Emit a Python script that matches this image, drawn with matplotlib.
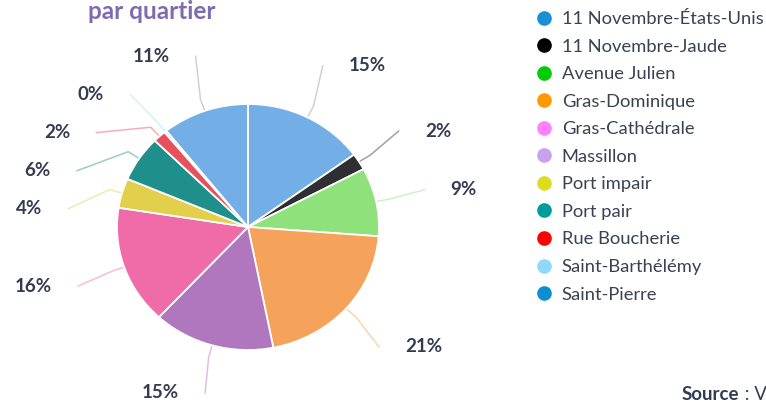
import numpy as np
import matplotlib.pyplot as plt
from matplotlib.lines import Line2D

# quartiers in legend order
quartiers = ['11 Novembre-États-Unis', '11 Novembre-Jaude', 'Avenue Julien',
             'Gras-Dominique', 'Gras-Cathédrale', 'Massillon', 'Port impair',
             'Port pair', 'Rue Boucherie', 'Saint-Barthélémy', 'Saint-Pierre']
legend_colors = ['#1a8fd6', '#000000', '#00cc00', '#ff9900', '#ff80ff', '#c8a2f0',
                 '#dedc22', '#009b9b', '#ff0000', '#8fd8ff', '#0b8fcf']

# pie slices, clockwise from 12 o'clock
parts = [15.0, 2.2, 9.0, 20.7, 15.0, 15.6, 3.9, 6.0, 1.6, 0.3, 10.7]
slice_colors = ['#74aee6', '#2f2f33', '#8fe27b', '#f5a35b', '#b077be', '#f06ca9',
                '#e2cf4b', '#1f8f8c', '#e8505b', '#9fe3ec', '#74aee6']

W, H = 766, 405
cx, cy, rx, ry = 248, 227, 131, 123
txt = '#333b52'

plt.rcParams['font.family'] = ['Lato', 'DejaVu Sans']

fig = plt.figure(figsize=(W / 100, H / 100), dpi=100)
ax = fig.add_axes([0, 0, 1, 1])

wedges, _ = ax.pie(parts, colors=slice_colors, startangle=90, counterclock=False,
                   wedgeprops=dict(edgecolor='white', linewidth=1.3))
ax.set_aspect('auto')
ax.set_xlim(-cx / rx, (W - cx) / rx)
ax.set_ylim(-(H - cy) / ry, cy / ry)
ax.axis('off')

# label placement (highcharts-like: push left labels apart, x on an ellipse)
total = sum(parts)
cum = np.cumsum([0] + parts)
mid = np.radians((cum[:-1] + np.array(parts) / 2) / total * 360)
R1, gap = 1.47, 0.31
ell_x, ell_y = 1.58, 1.50
ly = R1 * np.cos(mid)
side = np.where(np.sin(mid) > 0, 1, -1)
left = sorted([i for i in range(len(parts)) if side[i] < 0], key=lambda i: -ly[i])
for k in range(1, len(left)):
    ly[left[k]] = min(ly[left[k]], ly[left[k - 1]] - gap)
lx = side * ell_x * np.sqrt(np.clip(1 - (ly / ell_y) ** 2, 0.02, None))
ly = np.maximum(ly, ax.get_ylim()[0] + 0.1)  # keep inside the figure

for i, p in enumerate(parts):
    s = side[i]
    x0, y0 = np.sin(mid[i]), np.cos(mid[i])
    ax.plot([x0, 1.1 * x0, lx[i] - s * 0.2], [y0, 1.1 * y0, ly[i]],
            color=slice_colors[i] if i not in (0, 10) else '#999999',
            alpha=0.45, lw=1.1, zorder=0)
    ax.text(lx[i], ly[i], f'{p / total * 100:.0f}%', ha='left' if s > 0 else 'right',
            va='center', fontsize=13.5, fontweight='bold', color=txt)

fig.text(152 / W, 1 - 19 / H, 'par quartier', ha='center', va='baseline',
         fontsize=17.5, fontweight='bold', color='#7e6bb0')

handles = [Line2D([], [], marker='o', ls='', color=c, markersize=9.5) for c in legend_colors]
fig.legend(handles, quartiers, loc='upper left', bbox_to_anchor=(536 / W, 1 - 11 / H),
           frameon=False, fontsize=13.2, handlelength=0.9, handletextpad=0.5,
           labelspacing=0.63, borderaxespad=0, borderpad=0, labelcolor='#3a4152')

src = fig.text(682 / W, 1 - 400 / H, 'Source', fontsize=13.5, fontweight='bold',
               color=txt, va='baseline')
ax.annotate(' : V', xy=(1, 0), xycoords=src, va='bottom', fontsize=13.5, color=txt,
            annotation_clip=False)

fig.savefig('out.png', dpi=100)
